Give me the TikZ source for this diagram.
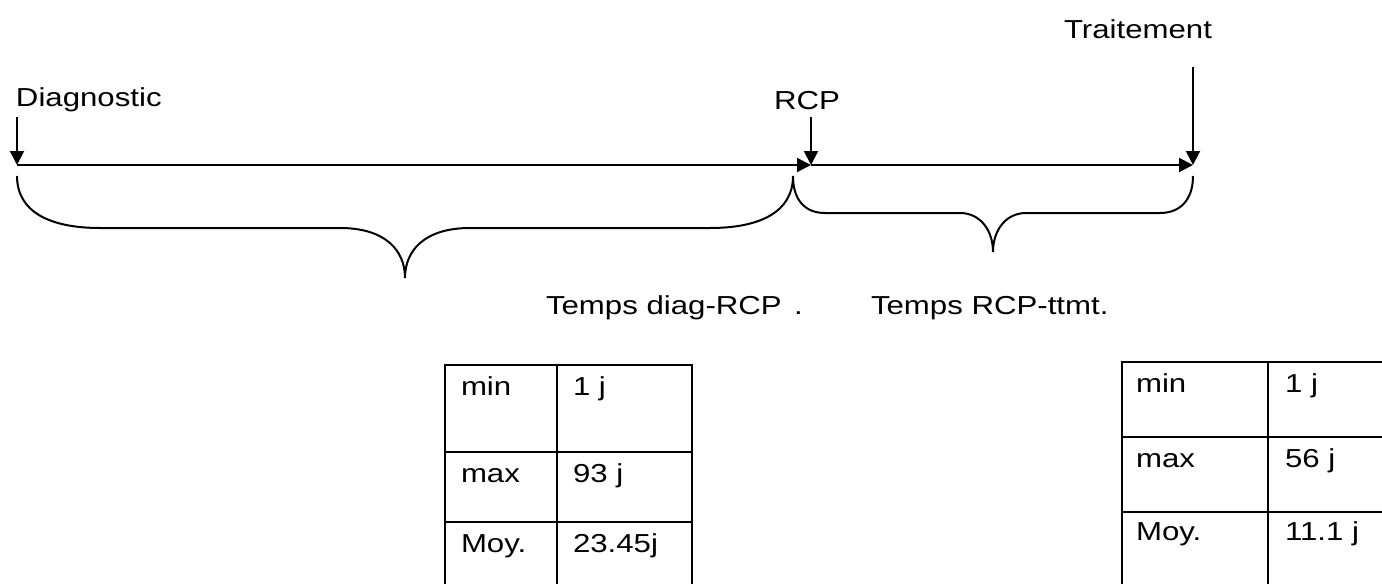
\documentclass[tikz,border=0pt]{standalone}
\usepackage{fontspec}
\setmainfont[FakeStretch=1.2]{Liberation Sans}
\usetikzlibrary{arrows.meta}
\begin{document}
\begin{tikzpicture}[x=0.5pt,y=-0.5pt,
  line width=1pt,
  arr/.style={-{Triangle[length=7pt,width=7pt]}},
  lbl/.style={inner sep=0pt,font=\fontsize{13pt}{15pt}\selectfont},
  brace/.style={line width=1pt},
  tab/.style={line width=1pt}]
\useasboundingbox (0,0) rectangle (1382,584);
% labels
\node[lbl,anchor=base west] (diag) at (15,106) {Diagnostic};
\node[lbl,anchor=base west] (rcp) at (773,109) {RCP};
\node[lbl,anchor=base east] (trait) at (1213,38) {Traitement};
\node[lbl,anchor=base west] (t1) at (545,314) {Temps diag-RCP};
\node[lbl,anchor=base west] (t1dot) at (793,314) {.};
\node[lbl,anchor=base west] (t2) at (870,314) {Temps RCP-ttmt.};
% timeline points
\coordinate (dTop) at (17,117);
\coordinate (dPt) at (17,165);
\coordinate (rTop) at (811,117);
\coordinate (rPt) at (811,165);
\coordinate (tTop) at (1193,67);
\coordinate (tPt) at (1193,165);
\draw[arr] (dTop) -- (dPt);
\draw[arr] (rTop) -- (rPt);
\draw[arr] (tTop) -- (tPt);
\draw[arr] (dPt) -- (rPt);
\draw[arr] (rPt) -- (tPt);
% braces
\draw[brace] (17,176) .. controls (17,212) and (50,228) .. (100,228) -- (340,228)
  .. controls (385,228) and (405,250) .. (405,278)
  .. controls (405,250) and (425,228) .. (470,228) -- (710,228)
  .. controls (760,228) and (793,212) .. (793,176);
\draw[brace] (793,176) .. controls (793,200) and (805,213) .. (825,213) -- (960,213)
  .. controls (980,213) and (993,230) .. (993,252)
  .. controls (993,230) and (1006,213) .. (1026,213) -- (1160,213)
  .. controls (1180,213) and (1193,200) .. (1193,176);
% left table
\draw[tab] (445,584) -- (445,365) -- (692,365) -- (692,584);
\draw[tab] (557,365) -- (557,584);
\draw[tab] (445,452) -- (692,452);
\draw[tab] (445,522) -- (692,522);
\node[lbl,anchor=base west] (a1) at (460,395) {min};
\node[lbl,anchor=base west] (a2) at (572,395) {1 j};
\node[lbl,anchor=base west] (a3) at (460,482) {max};
\node[lbl,anchor=base west] (a4) at (572,482) {93 j};
\node[lbl,anchor=base west] (a5) at (460,552) {Moy.};
\node[lbl,anchor=base west] (a6) at (572,552) {23.45j};
% right table
\draw[tab] (1122,584) -- (1122,362) -- (1390,362);
\draw[tab] (1268,362) -- (1268,584);
\draw[tab] (1122,437) -- (1390,437);
\draw[tab] (1122,512) -- (1390,512);
\node[lbl,anchor=base west] (b1) at (1135,392) {min};
\node[lbl,anchor=base west] (b2) at (1284,392) {1 j};
\node[lbl,anchor=base west] (b3) at (1135,467) {max};
\node[lbl,anchor=base west] (b4) at (1284,467) {56 j};
\node[lbl,anchor=base west] (b5) at (1135,540) {Moy.};
\node[lbl,anchor=base west] (b6) at (1284,540) {11.1 j};
\end{tikzpicture}
\end{document}
